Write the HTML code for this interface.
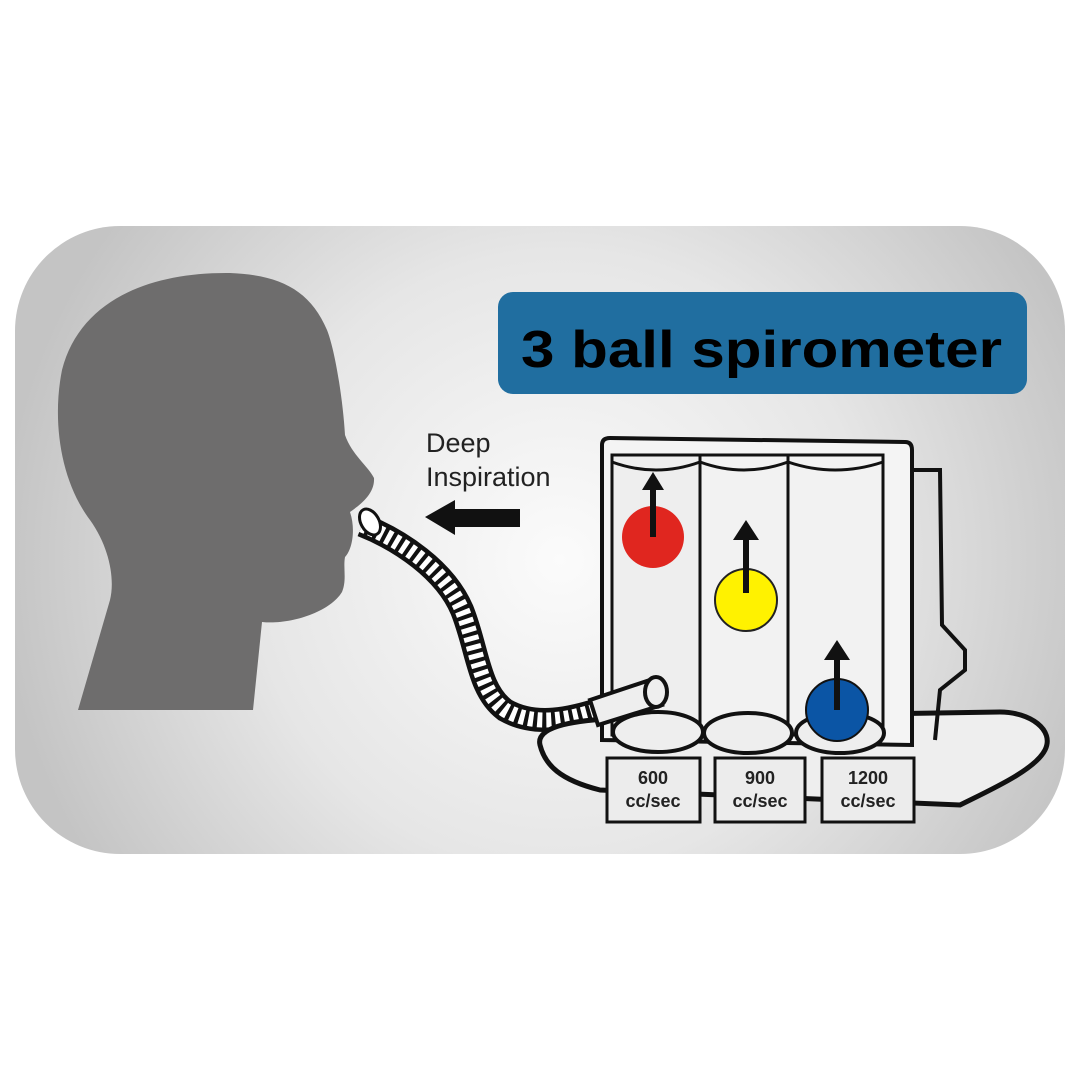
<!DOCTYPE html>
<html><head><meta charset="utf-8"><style>
html,body{margin:0;padding:0;background:#fff;width:1080px;height:1080px;overflow:hidden}
</style></head><body>
<svg width="1080" height="1080" viewBox="0 0 1080 1080" xmlns="http://www.w3.org/2000/svg">
<defs>
<radialGradient id="bg" cx="560" cy="560" r="560" gradientUnits="userSpaceOnUse">
<stop offset="0" stop-color="#fbfbfb"/><stop offset="0.55" stop-color="#e6e6e6"/><stop offset="1" stop-color="#c4c4c4"/>
</radialGradient>
</defs>
<rect width="1080" height="1080" fill="#fff"/>
<rect x="15" y="226" width="1050" height="628" rx="105" fill="url(#bg)"/>
<!-- head -->
<path d="M78 710 L253 710 L262 622 C290 625 330 612 342 592 C347 580 343 568 345 557 C352 550 356 530 350 512 C360 505 375 494 374 478 C368 466 352 455 345 435 C343 400 335 350 327 330 C310 290 280 275 230 273 C150 272 80 300 62 370 C52 420 60 480 90 520 C110 548 115 580 110 600 Z" fill="#6e6d6d"/>
<!-- tube -->
<path d="M362 525 C400 540 445 570 462 610 C478 650 478 690 505 710 C540 730 580 715 605 708" fill="none" stroke="#111" stroke-width="24"/>
<path d="M362 525 C400 540 445 570 462 610 C478 650 478 690 505 710 C540 730 580 715 605 708" fill="none" stroke="#fff" stroke-width="15" stroke-dasharray="5 4"/>
<ellipse cx="370" cy="522" rx="9" ry="14" fill="#fff" stroke="#111" stroke-width="3" transform="rotate(-30 370 522)"/>
<!-- Deep Inspiration -->
<text x="426" y="452" font-family="Liberation Sans, sans-serif" font-size="27" fill="#222">Deep</text>
<text x="426" y="486" font-family="Liberation Sans, sans-serif" font-size="27" fill="#222">Inspiration</text>
<path d="M425 517 L455 500 L455 509 L520 509 L520 527 L455 527 L455 535 Z" fill="#111"/>
<!-- device base -->
<path d="M540 745 C535 725 580 720 620 718 L1000 712 C1030 712 1055 730 1045 750 C1035 770 990 790 960 805 L600 790 C560 780 545 765 540 745 Z" fill="#eee" stroke="#111" stroke-width="5"/>
<!-- side flange -->
<path d="M908 470 L940 470 L942 625 L965 650 L965 670 L940 690 L935 740" fill="none" stroke="#111" stroke-width="4"/>
<!-- frame -->
<path d="M602 445 Q602 438 610 438 L905 442 Q912 442 912 450 L912 745 L602 740 Z" fill="#f4f4f4" stroke="#111" stroke-width="4"/>
<rect x="612" y="455" width="88" height="280" fill="#eeeeee" stroke="#111" stroke-width="3"/>
<rect x="700" y="455" width="88" height="280" fill="#f2f2f2" stroke="#111" stroke-width="3"/>
<rect x="788" y="455" width="95" height="280" fill="#f2f2f2" stroke="#111" stroke-width="3"/>
<path d="M612 462 Q656 478 700 462 M700 462 Q744 478 788 462 M788 462 Q835 478 883 462" fill="none" stroke="#111" stroke-width="3"/>
<!-- base disks -->
<ellipse cx="658" cy="732" rx="45" ry="20" fill="#eee" stroke="#111" stroke-width="4"/>
<ellipse cx="748" cy="733" rx="44" ry="20" fill="#eee" stroke="#111" stroke-width="4"/>
<ellipse cx="840" cy="733" rx="44" ry="20" fill="#eee" stroke="#111" stroke-width="4"/>
<!-- mouthpiece connector -->
<path d="M590 700 L650 680 L662 705 L598 725 Z" fill="#eee" stroke="#111" stroke-width="4"/>
<ellipse cx="656" cy="692" rx="11" ry="15" fill="#eee" stroke="#111" stroke-width="4"/>
<!-- balls -->
<circle cx="653" cy="537" r="31" fill="#e0261f"/>
<circle cx="746" cy="600" r="31" fill="#fff200" stroke="#222" stroke-width="2"/>
<circle cx="837" cy="710" r="31" fill="#0b55a5" stroke="#111" stroke-width="2"/>
<g fill="#111">
<rect x="650" y="485" width="6" height="52"/><path d="M642 490 L653 472 L664 490 Z"/>
<rect x="743" y="535" width="6" height="58"/><path d="M733 540 L746 520 L759 540 Z"/>
<rect x="834" y="655" width="6" height="55"/><path d="M824 660 L837 640 L850 660 Z"/>
</g>
<!-- labels -->
<g stroke="#111" stroke-width="3" fill="#ececec">
<rect x="607" y="758" width="93" height="64"/>
<rect x="715" y="758" width="90" height="64"/>
<rect x="822" y="758" width="92" height="64"/>
</g>
<g font-family="Liberation Sans, sans-serif" font-weight="bold" font-size="18" fill="#222" text-anchor="middle">
<text x="653" y="784">600</text><text x="653" y="807">cc/sec</text>
<text x="760" y="784">900</text><text x="760" y="807">cc/sec</text>
<text x="868" y="784">1200</text><text x="868" y="807">cc/sec</text>
</g>
<!-- title -->
<rect x="498" y="292" width="529" height="102" rx="15" fill="#206ea0"/>
<text x="521" y="367" font-family="Liberation Sans, sans-serif" font-weight="bold" font-size="52" fill="#000" textLength="481" lengthAdjust="spacingAndGlyphs">3 ball spirometer</text>
</svg>
</body></html>
